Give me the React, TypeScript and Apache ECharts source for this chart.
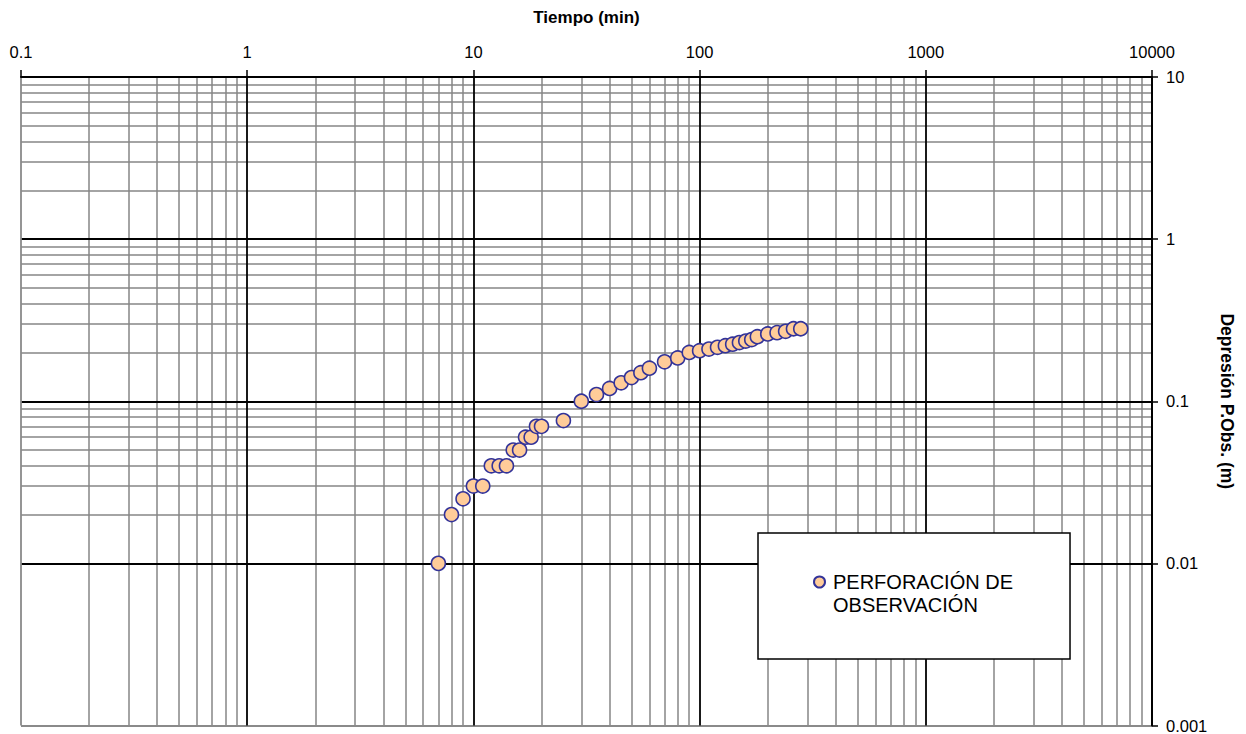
import React, { useEffect, useRef } from "react";
import * as echarts from "echarts";

const tiempo = [7, 8, 9, 10, 11, 12, 13, 14, 15, 16, 17, 18, 19, 20, 25, 30, 35, 40, 45, 50, 55, 60, 70, 80, 90, 100, 110, 120, 130, 140, 150, 160, 170, 180, 200, 220, 240, 260, 280];
const depresion = [0.01, 0.02, 0.025, 0.03, 0.03, 0.04, 0.04, 0.04, 0.05, 0.05, 0.06, 0.06, 0.07, 0.07, 0.076, 0.1, 0.11, 0.12, 0.13, 0.14, 0.15, 0.16, 0.175, 0.185, 0.2, 0.205, 0.21, 0.215, 0.22, 0.225, 0.23, 0.235, 0.24, 0.25, 0.26, 0.265, 0.27, 0.28, 0.28];

const xDecades = [0.1, 1, 10, 100, 1000];
const yDecades = [0.001, 0.01, 0.1, 1];
const minorMultipliers = [2, 3, 4, 5, 6, 7, 8, 9];

const xMin = 0.1;
const xMax = 10000;
const yMin = 0.001;
const yMax = 10;

const seriesName = "PERFORACIÓN DE OBSERVACIÓN";
const legendText = "\nPERFORACIÓN DE\nOBSERVACIÓN";

const FONT = "'Liberation Sans', Arial, Helvetica, sans-serif";

const fmt = (v: number) => String(Number(Number(v).toPrecision(6)));

export default function App() {
  const ref = useRef<HTMLDivElement>(null);

  useEffect(() => {
    if (!ref.current) return;
    const chart = echarts.init(ref.current, null, { renderer: "svg" });

    const minorX: any[] = [];
    xDecades.forEach((d) => minorMultipliers.forEach((m) => minorX.push({ xAxis: d * m })));
    const minorY: any[] = [];
    yDecades.forEach((d) => minorMultipliers.forEach((m) => minorY.push({ yAxis: d * m })));

    const points = tiempo.map((t, i) => [t, depresion[i]]);

    const option: any = {
      animation: false,
      backgroundColor: "#ffffff",
      textStyle: { fontFamily: FONT },
      grid: { left: 21, right: 94, top: 77, bottom: 8.5, containLabel: false },
      legend: {
        show: true,
        data: [seriesName],
        left: 758,
        top: 533,
        orient: "vertical",
        padding: [14.5, 57, 42.5, 55],
        backgroundColor: "#ffffff",
        borderColor: "#000000",
        borderWidth: 1.5,
        borderRadius: 0,
        itemWidth: 11,
        itemHeight: 11,
        icon: "circle",
        formatter: () => legendText,
        textStyle: { fontFamily: FONT, fontSize: 20, lineHeight: 23, color: "#000", padding: [0, 0, 0, 3] },
        selectedMode: false,
      },
      xAxis: {
        type: "log",
        logBase: 10,
        position: "top",
        min: xMin,
        max: xMax,
        z: 2,
        name: "Tiempo (min)",
        nameLocation: "middle",
        nameGap: 51,
        nameTextStyle: { fontFamily: FONT, fontSize: 17, fontWeight: "bold", color: "#000" },
        axisLine: { show: true, lineStyle: { color: "#000", width: 2 } },
        axisTick: { show: true, inside: false, length: 7, lineStyle: { color: "#000", width: 1.5 } },
        axisLabel: { show: true, margin: 17, fontFamily: FONT, fontSize: 16.5, color: "#000", formatter: fmt },
        splitLine: {
          show: true,
          lineStyle: { color: ["#8a8a8a", "#000", "#000", "#000", "#000", "#000"], width: 1.8 },
        },
        minorTick: { show: false },
        minorSplitLine: { show: false },
      },
      yAxis: {
        type: "log",
        logBase: 10,
        position: "right",
        min: yMin,
        max: yMax,
        z: 2,
        name: "Depresión P.Obs. (m)",
        nameLocation: "middle",
        nameRotate: -90,
        nameGap: 63,
        nameTextStyle: { fontFamily: FONT, fontSize: 17.5, fontWeight: "bold", color: "#000" },
        axisLine: { show: true, lineStyle: { color: "#000", width: 2 } },
        axisTick: { show: true, inside: false, length: 6, lineStyle: { color: "#000", width: 1.5 } },
        axisLabel: { show: true, margin: 14, fontFamily: FONT, fontSize: 16.5, color: "#000", formatter: fmt },
        splitLine: {
          show: true,
          lineStyle: { color: ["#8a8a8a", "#000", "#000", "#000", "#000"], width: 1.8 },
        },
      },
      series: [
        {
          name: seriesName,
          type: "scatter",
          z: 3,
          data: points,
          symbol: "circle",
          symbolSize: 14,
          itemStyle: { color: "#FFCC99", borderColor: "#333399", borderWidth: 1.6, opacity: 1 },
          markLine: {
            silent: true,
            z: 1,
            symbol: ["none", "none"],
            label: { show: false },
            emphasis: { disabled: true },
            lineStyle: { color: "#868686", width: 1.5, type: "solid" },
            data: [...minorX, ...minorY],
          },
        },
      ],
    };

    chart.setOption(option);
    return () => chart.dispose();
  }, []);

  return (
    <div
      ref={ref}
      style={{ position: "fixed", left: 0, top: 0, width: 1246, height: 734, background: "#fff" }}
    />
  );
}
